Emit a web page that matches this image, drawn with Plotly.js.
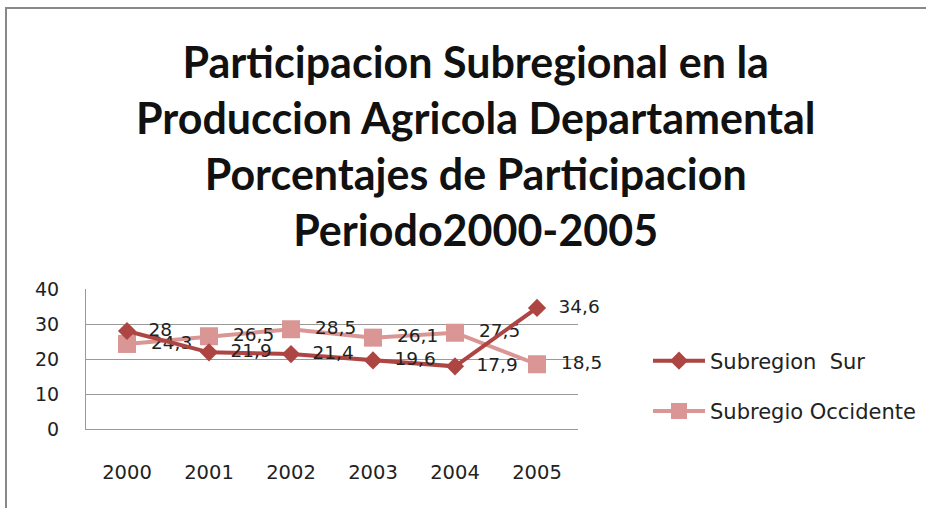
<!DOCTYPE html>
<html><head><meta charset="utf-8">
<script src="https://cdn.plot.ly/plotly-3.0.1.min.js"></script>
<style>html,body{margin:0;padding:0;background:#fff}#chart{width:926px;height:508px}</style>
</head><body><div id="chart"></div>
<script>
var years = ['2000','2001','2002','2003','2004','2005'];
var surValues = [28, 21.9, 21.4, 19.6, 17.9, 34.6];
var surLabels = ['28','21,9','21,4','19,6','17,9','34,6'];
var occValues = [24.3, 26.5, 28.5, 26.1, 27.5, 18.5];
var occLabels = ['24,3','26,5','28,5','26,1','27,5','18,5'];
var yTicks = [0, 10, 20, 30, 40];
var titleLines = ['Participacion Subregional en la', 'Produccion Agricola Departamental',
                  'Porcentajes de Participacion', 'Periodo2000-2005'];

var fontFam = '"DejaVu Sans", sans-serif';
var titleFam = 'Lato, "Open Sans", sans-serif';
function pad(s) { return '\u00a0\u00a0' + s; }
var traces = [
  {x: years, y: occValues, name: 'Subregio Occidente', type: 'scatter', mode: 'lines+markers+text',
   text: occLabels.map(pad), textposition: 'middle right', textfont: {size: 18.5, color: '#222', family: fontFam},
   line: {color: '#D99694', width: 4}, marker: {symbol: 'square', size: 18, color: '#D99694'},
   legendgroup: 'b', legendrank: 2, cliponaxis: false},
  {x: years, y: surValues, name: 'Subregion  Sur', type: 'scatter', mode: 'lines+markers+text',
   text: surLabels.map(pad), textposition: 'middle right', textfont: {size: 18.5, color: '#222', family: fontFam},
   line: {color: '#AD4543', width: 4}, marker: {symbol: 'diamond', size: 14, color: '#AD4543'},
   legendgroup: 'a', legendrank: 1, cliponaxis: false}
];
// paper coordinates: plot area is 492 x 140 px, starting at page (86, 289)
function px(x) { return (x - 86) / 492; }
function py(y) { return 1 + (289 - y) / 140; }
var layout = {
  width: 926, height: 508,
  paper_bgcolor: '#fff', plot_bgcolor: '#fff',
  margin: {l: 86, r: 348, t: 289, b: 79, autoexpand: false},
  font: {family: fontFam, color: '#222'},
  xaxis: {type: 'category', categoryarray: years, tickvals: years, ticktext: years,
          showgrid: false, showline: true, linecolor: '#999', linewidth: 1,
          tickfont: {size: 19.5, color: '#222'}, ticks: '', ticklabelstandoff: 26, zeroline: false,
          range: [-0.5, 5.5], fixedrange: true, automargin: false},
  yaxis: {range: [0, 40], tickvals: yTicks, ticktext: yTicks.map(String), showgrid: true, gridcolor: '#999',
          gridwidth: 1, showline: true, linecolor: '#999', linewidth: 1, zeroline: false,
          tickfont: {size: 19, color: '#222'}, ticks: '', ticklabelstandoff: 22, fixedrange: true, automargin: false},
  showlegend: true,
  legend: {x: px(648), xanchor: 'left', y: 1 - (386 - 289) / 140, yanchor: 'middle', traceorder: 'grouped', tracegroupgap: 20,
           itemwidth: 52, font: {size: 21, color: '#222', family: fontFam}, bgcolor: 'rgba(0,0,0,0)'},
  annotations: [
    {text: titleLines.join('<br>'), xref: 'paper', yref: 'paper', x: px(475), y: py(145),
     xanchor: 'center', yanchor: 'middle', showarrow: false,
     font: {size: 43, family: titleFam, weight: 'bold', color: '#111'}}
  ],
  shapes: [
    {type: 'rect', xref: 'paper', yref: 'paper', x0: px(6), x1: px(940), y0: py(530), y1: py(8),
     line: {color: '#888', width: 2}, fillcolor: 'rgba(0,0,0,0)'}
  ]
};
Plotly.newPlot('chart', traces, layout, {displayModeBar: false, staticPlot: true});
</script></body></html>
